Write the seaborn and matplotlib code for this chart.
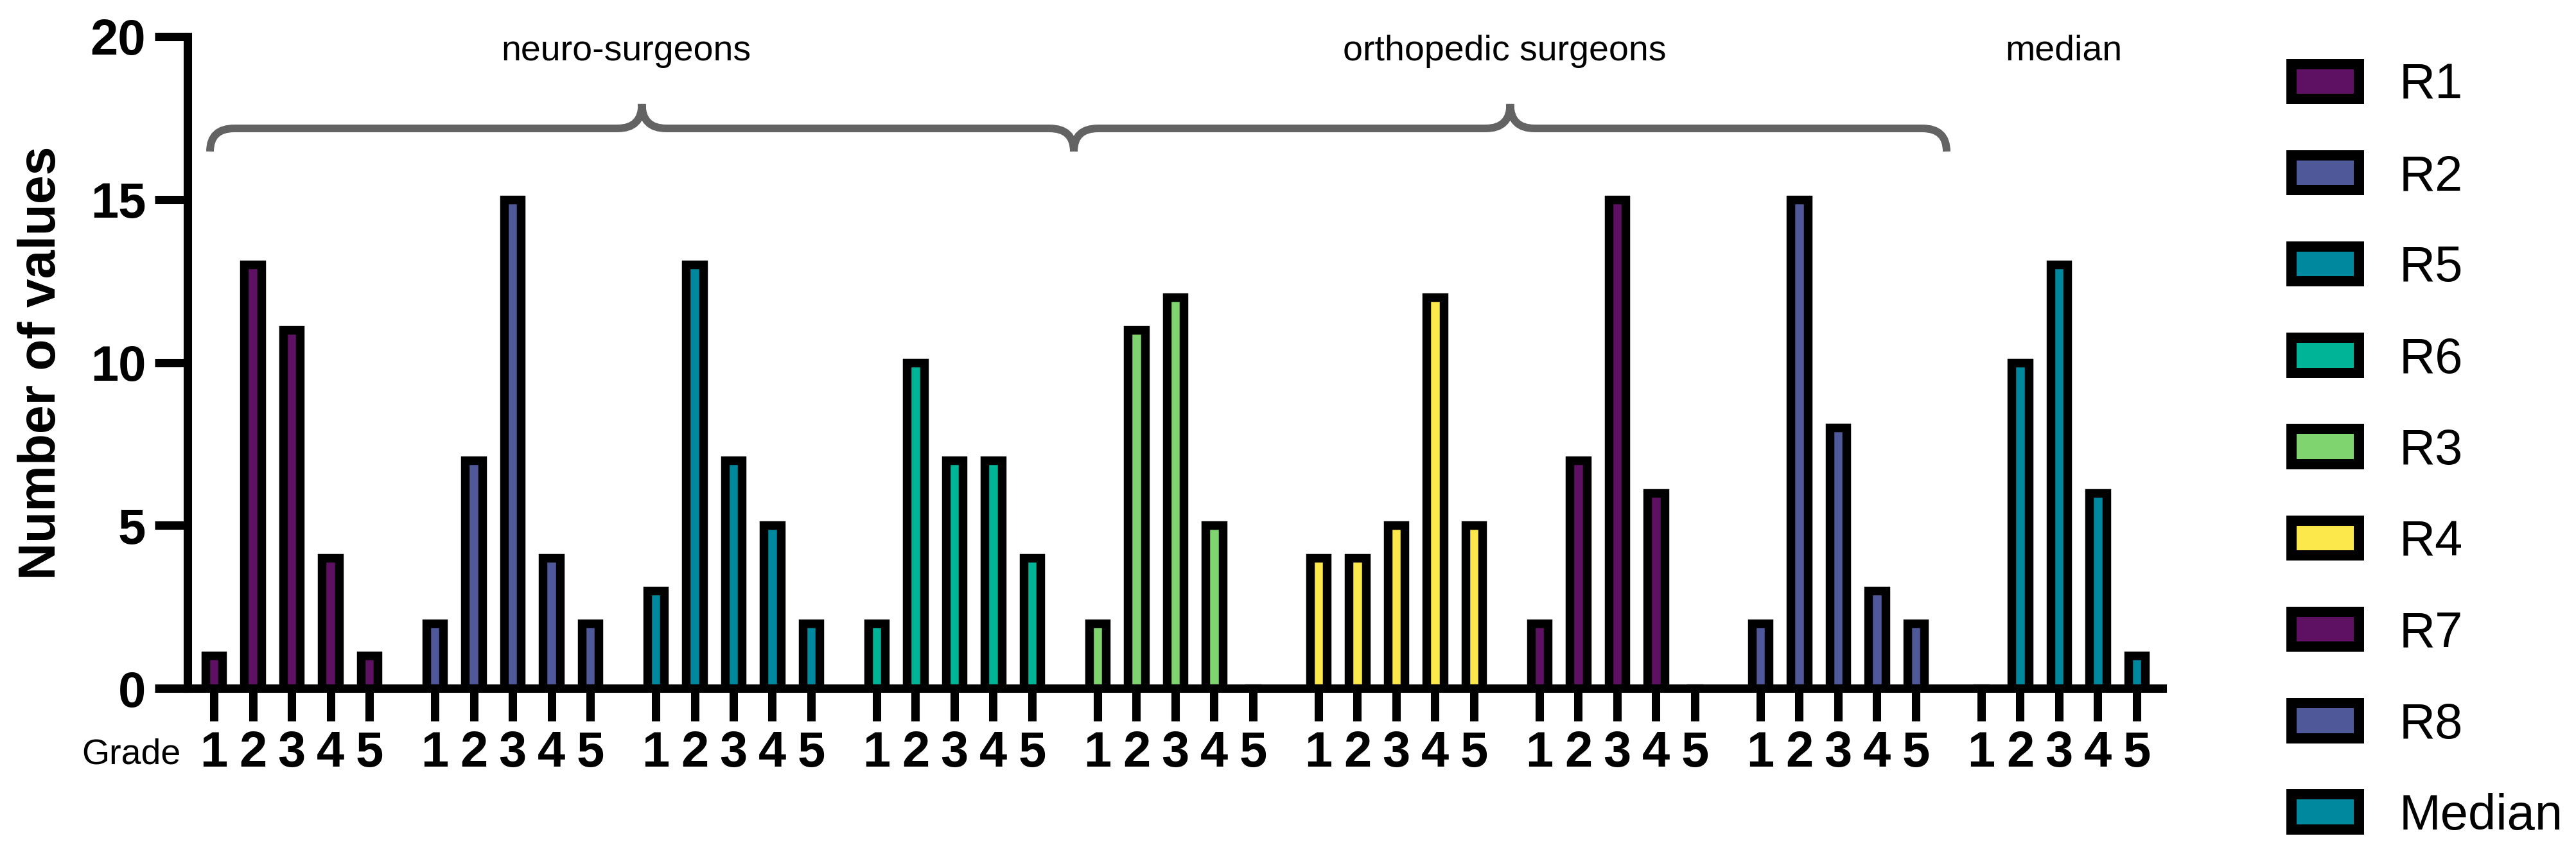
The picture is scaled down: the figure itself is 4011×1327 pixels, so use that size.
import pandas as pd
import seaborn as sns
import matplotlib.pyplot as plt
from matplotlib.patches import Patch, PathPatch
from matplotlib.path import Path

# Data
raters = ['R1', 'R2', 'R5', 'R6', 'R3', 'R4', 'R7', 'R8', 'Median']
grades = [1, 2, 3, 4, 5]
r1 = [1, 13, 11, 4, 1]
r2 = [2, 7, 15, 4, 2]
r5 = [3, 13, 7, 5, 2]
r6 = [2, 10, 7, 7, 4]
r3 = [2, 11, 12, 5, 0]
r4 = [4, 4, 5, 12, 5]
r7 = [2, 7, 15, 6, 0]
r8 = [2, 15, 8, 3, 2]
median = [0, 10, 13, 6, 1]
counts = [r1, r2, r5, r6, r3, r4, r7, r8, median]
group_labels = ['neuro-surgeons', 'orthopedic surgeons', 'median']

colors = {'R1': '#5e1163', 'R2': '#4f5999', 'R5': '#00889f', 'R6': '#00b497',
          'R3': '#7fd46f', 'R4': '#fde84c', 'R7': '#5e1163', 'R8': '#4f5999',
          'Median': '#00889f'}

GROUP_STEP = 5.686  # bar slots from one rater group to the next

rows = []
for g, (name, vals) in enumerate(zip(raters, counts)):
    for j, (grade, v) in enumerate(zip(grades, vals)):
        rows.append({'rater': name, 'grade': grade, 'count': v, 'pos': g * GROUP_STEP + j})
df = pd.DataFrame(rows)

sns.set_style('ticks')
plt.rcParams['font.family'] = ['Liberation Sans', 'DejaVu Sans']
plt.rcParams['text.color'] = 'black'

W, H = 4011, 1327


def px(x, y):
    return (x / W, 1 - y / H)


fig = plt.figure(figsize=(W / 100, H / 100), dpi=100)
ax = fig.add_axes([292 / W, 1 - 1072 / H, (3367 - 292) / W, (1072 - 57) / H])

sns.barplot(data=df, x='pos', y='count', hue='rater', hue_order=raters, palette=colors,
            native_scale=True, dodge=False, width=0.44, edgecolor='black', linewidth=9.7,
            saturation=1, errorbar=None, legend=False, ax=ax)

ax.set_xlim(-0.678, 50.15)
ax.set_ylim(0, 20)
ax.set_yticks([0, 5, 10, 15, 20])
ax.set_xticks(df['pos'])
ax.set_xticklabels(df['grade'].astype(str))
ax.set_xlabel('')
ax.set_ylabel('')

sns.despine(ax=ax)
for side in ['left', 'bottom']:
    ax.spines[side].set_linewidth(9.4)
    ax.spines[side].set_color('black')
ax.tick_params(axis='both', length=36.7, width=9.4, color='black', labelcolor='black',
               direction='out', pad=10)
for lab in ax.get_xticklabels() + ax.get_yticklabels():
    lab.set_fontsize(56)
    lab.set_fontweight('bold')

fig.text(*px(65, 565), 'Number of values', rotation=90, ha='center', va='center',
         fontsize=58, fontweight='bold')
fig.text(*px(282, 1176), 'Grade', ha='right', va='center', fontsize=40)

# group captions and braces
for lab, xc in zip(group_labels, [975, 2343, 3213]):
    fig.text(*px(xc, 80), lab, ha='center', va='center', fontsize=40)


def brace(x0, x1, yh=200, yb=236, yp=162, r=38):
    xm = (x0 + x1) / 2
    pts = [(x0, yb), (x0, yh), (x0 + r, yh), (xm - r, yh), (xm, yh), (xm, yp),
           (xm, yh), (xm + r, yh), (x1 - r, yh), (x1, yh), (x1, yb)]
    codes = [Path.MOVETO, Path.CURVE3, Path.CURVE3, Path.LINETO, Path.CURVE3, Path.CURVE3,
             Path.CURVE3, Path.CURVE3, Path.LINETO, Path.CURVE3, Path.CURVE3]
    path = Path([px(x, y) for x, y in pts], codes)
    fig.add_artist(PathPatch(path, transform=fig.transFigure, facecolor='none',
                             edgecolor='#636363', linewidth=8.6, capstyle='butt'))


brace(327, 1672)
brace(1672, 3031)

handles = [Patch(facecolor=colors[r], edgecolor='black', linewidth=11.5, label=r) for r in raters]
fig.legend(handles=handles, loc='upper left', bbox_to_anchor=px(3568, 97), frameon=False,
           fontsize=56, handlelength=1.35, handleheight=0.7, handletextpad=0.8,
           labelspacing=0.89, borderpad=0, borderaxespad=0)

fig.savefig('out.png', dpi=100)
